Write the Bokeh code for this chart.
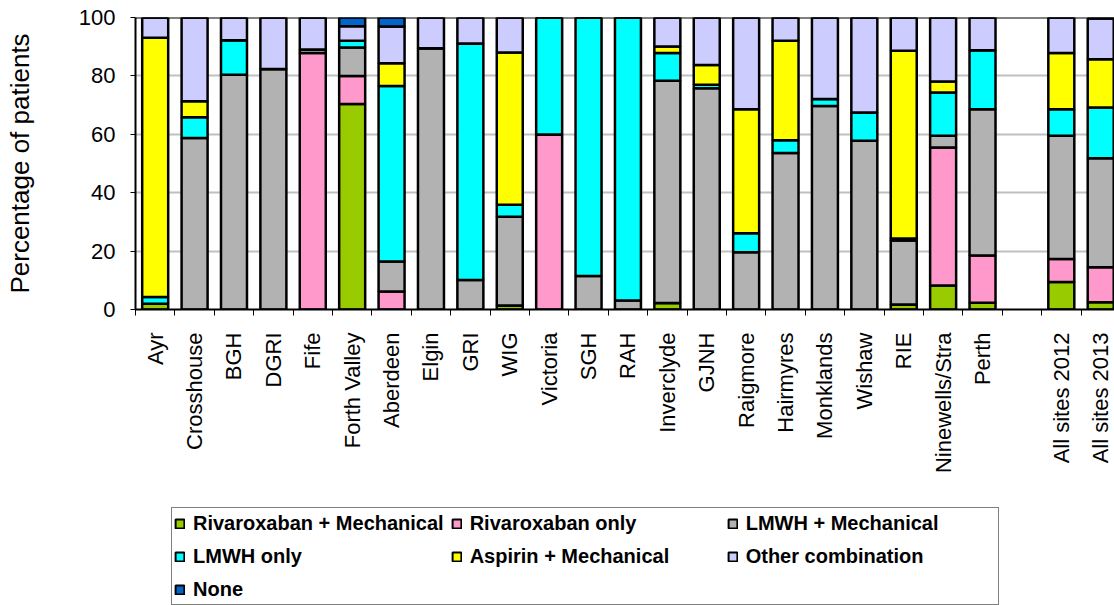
import math
from bokeh.plotting import figure
from bokeh.layouts import column
from bokeh.models import ColumnDataSource, Range1d, FixedTicker, Legend, LegendItem, Span
from bokeh.embed import file_html
from bokeh.resources import INLINE

sites = ["Ayr", "Crosshouse", "BGH", "DGRI", "Fife", "Forth Valley", "Aberdeen", "Elgin",
         "GRI", "WIG", "Victoria", "SGH", "RAH", "Inverclyde", "GJNH", "Raigmore",
         "Hairmyres", "Monklands", "Wishaw", "RIE", "Ninewells/Stra", "Perth",
         "All sites 2012", "All sites 2013"]

riva_mech = [2.0, 0, 0, 0, 0, 70.4, 0, 0, 0, 1.4, 0, 0, 0, 2.2, 0, 0, 0, 0, 0, 1.7, 8.2, 2.3, 9.4, 2.5]
riva_only = [0, 0, 0, 0, 87.8, 9.6, 6.2, 0, 0, 0, 59.9, 0, 0, 0, 0, 0, 0, 0, 0, 0, 47.3, 16.2, 7.9, 12.0]
lmwh_mech = [0, 58.7, 80.4, 82.4, 1.2, 9.7, 10.2, 89.5, 10.1, 30.4, 0, 11.5, 3.1, 76.1, 75.8, 19.6, 53.6, 69.7, 57.8, 21.9, 4.0, 50.1, 42.2, 37.3]
lmwh_only = [2.3, 7.1, 11.8, 0, 0, 2.3, 60.1, 0, 81.0, 4.1, 40.1, 88.5, 96.9, 9.5, 1.2, 6.5, 4.4, 2.4, 9.7, 0.7, 14.8, 20.2, 9.1, 17.4]
aspirin_mech = [88.8, 5.5, 0, 0, 0, 0, 7.8, 0, 0, 52.1, 0, 0, 0, 2.3, 6.7, 42.5, 34.0, 0, 0, 64.3, 3.8, 0, 19.2, 16.5]
other_comb = [6.9, 28.7, 7.8, 17.6, 11.0, 5.0, 12.6, 10.5, 8.9, 12.0, 0, 0, 0, 9.9, 16.3, 31.4, 8.0, 27.9, 32.5, 11.4, 21.9, 11.2, 12.2, 14.0]
none_vals = [0, 0, 0, 0, 0, 3.0, 3.1, 0, 0, 0, 0, 0, 0, 0, 0, 0, 0, 0, 0, 0, 0, 0, 0, 0]

series_names = ["Rivaroxaban + Mechanical", "Rivaroxaban only", "LMWH + Mechanical",
                "LMWH only", "Aspirin + Mechanical", "Other combination", "None"]
series_colors = ["#99CC00", "#FF99CC", "#B2B2B2", "#00FFFF", "#FFFF00", "#CCCCFF", "#0066CC"]
y_ticks = [0, 20, 40, 60, 80, 100]

# 22 individual sites, one empty slot, then the two totals
n_sites = 22
xpos = list(range(n_sites)) + [n_sites + 1 + i for i in range(len(sites) - n_sites)]

keys = ["s%d" % i for i in range(len(series_names))]
data = dict(x=xpos)
for k, arr in zip(keys, [riva_mech, riva_only, lmwh_mech, lmwh_only, aspirin_mech, other_comb, none_vals]):
    data[k] = arr
source = ColumnDataSource(data)

p = figure(width=1114, height=490, output_backend="svg", toolbar_location=None,
           x_range=Range1d(-0.5, 24.35), y_range=Range1d(0, 100),
           min_border_left=135, min_border_top=17, min_border_right=0, min_border_bottom=181)
p.background_fill_color = "white"
p.border_fill_color = "white"
p.outline_line_color = None

renderers = p.vbar_stack(keys, x="x", width=0.66, source=source,
                         fill_color=series_colors, line_color="black", line_width=2.5)

# grid
p.xgrid.grid_line_color = None
p.ygrid.grid_line_color = "#C0C0C0"
p.ygrid.grid_line_width = 2
p.ygrid.ticker = FixedTicker(ticks=y_ticks)
p.add_layout(Span(location=100, dimension="width", line_color="black", line_width=2))

# y axis
ya = p.yaxis[0]
ya.ticker = FixedTicker(ticks=y_ticks)
ya.axis_label = "Percentage of patients"
ya.axis_label_text_font = "Liberation Sans"
ya.axis_label_text_font_size = "26px"
ya.axis_label_text_font_style = "normal"
ya.axis_label_text_color = "black"
ya.axis_label_standoff = 41
ya.major_label_text_font = "Liberation Sans"
ya.major_label_text_font_size = "22px"
ya.major_label_text_color = "black"
ya.major_label_standoff = 15
ya.major_tick_out = 5
ya.major_tick_in = 0
ya.major_tick_line_color = "black"
ya.major_tick_line_width = 1
ya.minor_tick_line_color = None
ya.axis_line_color = "black"
ya.axis_line_width = 2

# x axis: labels at centres, tick marks at slot boundaries
boundaries = [i - 0.5 for i in range(26)]
xa = p.xaxis[0]
xa.ticker = FixedTicker(ticks=xpos, minor_ticks=boundaries)
xa.major_label_overrides = {x: s for x, s in zip(xpos, sites)}
xa.major_label_orientation = math.pi / 2
xa.major_label_text_font = "Liberation Sans"
xa.major_label_text_font_size = "22px"
xa.major_label_text_color = "black"
xa.major_label_standoff = 17
xa.major_tick_out = 0
xa.major_tick_in = 0
xa.minor_tick_out = 6
xa.minor_tick_in = 0
xa.minor_tick_line_color = "black"
xa.minor_tick_line_width = 1
xa.axis_line_color = "black"
xa.axis_line_width = 2

# legend panel: a second figure below with the same series styles; its copy of the
# bars is scaled down to sit entirely behind the opaque legend box
p2 = figure(width=1114, height=115, output_backend="svg", toolbar_location=None,
            x_range=Range1d(-25.5, 56.1), y_range=Range1d(-6.25, 137.5),
            x_axis_location=None, y_axis_location=None,
            min_border_left=0, min_border_right=0, min_border_top=0, min_border_bottom=0)
p2.grid.visible = False
p2.outline_line_color = None
p2.background_fill_color = "white"
p2.border_fill_color = "white"
leg_renderers = p2.vbar_stack(keys, x="x", width=0.66, source=source,
                              fill_color=series_colors, line_color="black", line_width=2)

items = [LegendItem(label=n, renderers=[r]) for n, r in zip(series_names, leg_renderers)]
legend = Legend(items=items, orientation="horizontal", ncols=3, location=(36, 0),
                label_text_font="Liberation Sans", label_text_font_size="20px",
                label_text_font_style="bold", label_text_color="black",
                glyph_width=11, glyph_height=11, label_standoff=8, label_width=250,
                label_height=26, spacing=7, padding=2, margin=0,
                border_line_color="black", border_line_width=1,
                background_fill_color="white", background_fill_alpha=1)
p2.add_layout(legend, "center")

layout = column(p, p2, spacing=0)
open("out.html", "w").write(file_html(layout, INLINE))
